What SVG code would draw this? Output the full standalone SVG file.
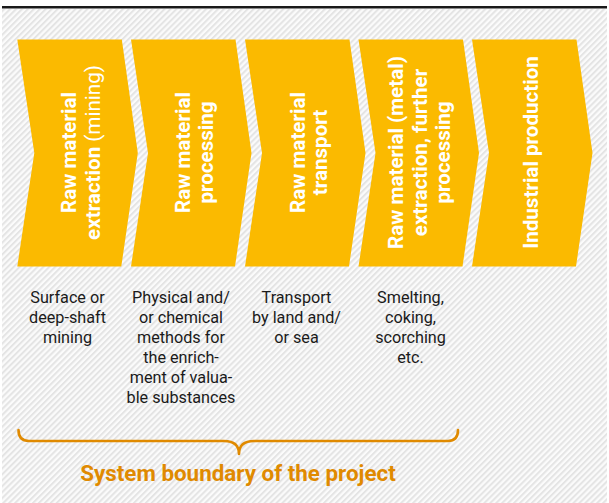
<svg xmlns="http://www.w3.org/2000/svg" width="609" height="503" viewBox="0 0 609 503">
  <defs>
    <pattern id="hatch" patternUnits="userSpaceOnUse" width="4.2" height="4.2" patternTransform="rotate(45)">
      <rect x="0" y="0" width="4.2" height="4.2" fill="#fbfbfb"/>
      <rect x="0" y="0" width="2" height="4.2" fill="#e4e4e4"/>
    </pattern>
    <polygon id="chev" points="0,39.5 104.5,39.5 120.5,153 104,266.5 0,266.5 17,153"/>
  </defs>
  <style>
    .chev { fill: #FBBA00; }
    .lbl { font-family: Roboto, "Liberation Sans", sans-serif; font-weight: bold; font-size: 20.6px; fill: #ffffff; text-anchor: middle; }
    .lbl .lt { font-weight: normal; }
    .desc { font-family: Roboto, "Liberation Sans", sans-serif; font-size: 16.2px; fill: #1a1a1a; text-anchor: middle; }
    .brace { fill: none; stroke: #E08A00; stroke-width: 2.6; stroke-linecap: round; stroke-linejoin: round; }
    .btxt { font-family: Roboto, "Liberation Sans", sans-serif; font-weight: bold; font-size: 22.4px; fill: #E08A00; text-anchor: middle; }
  </style>

  <rect x="2" y="9" width="605" height="494" fill="url(#hatch)"/>
  <rect x="2" y="6" width="605" height="2.5" fill="#1a1a1a"/>

  <g id="node-extraction">
    <use href="#chev" class="chev" transform="translate(17.3,0)"/>
    <text class="lbl" transform="translate(76,152.5) rotate(-90)">Raw material</text>
    <text class="lbl" transform="translate(100,152.5) rotate(-90)">extraction <tspan class="lt">(mining)</tspan></text>
  </g>
  <g id="node-processing">
    <use href="#chev" class="chev" transform="translate(131,0)"/>
    <text class="lbl" transform="translate(190,152.5) rotate(-90)">Raw material</text>
    <text class="lbl" transform="translate(213,152.5) rotate(-90)">processing</text>
  </g>
  <g id="node-transport">
    <use href="#chev" class="chev" transform="translate(245,0)"/>
    <text class="lbl" transform="translate(305,152.5) rotate(-90)">Raw material</text>
    <text class="lbl" transform="translate(327,152.5) rotate(-90)">transport</text>
  </g>
  <g id="node-metal">
    <use href="#chev" class="chev" transform="translate(358.5,0)"/>
    <text class="lbl" transform="translate(403,152.5) rotate(-90)">Raw material (metal)</text>
    <text class="lbl" transform="translate(427,152.5) rotate(-90)">extraction, further</text>
    <text class="lbl" transform="translate(450,152.5) rotate(-90)">processing</text>
  </g>
  <g id="node-industrial">
    <use href="#chev" class="chev" transform="translate(472,0)"/>
    <text class="lbl" transform="translate(538,152.5) rotate(-90)">Industrial production</text>
  </g>

  <g id="desc-1" class="desc">
    <text x="67.5" y="303.3">Surface or</text>
    <text x="67.5" y="323.3">deep-shaft</text>
    <text x="67.5" y="343.3">mining</text>
  </g>
  <g id="desc-2" class="desc">
    <text x="181" y="303.3">Physical and/</text>
    <text x="181" y="323.3">or chemical</text>
    <text x="181" y="343.3">methods for</text>
    <text x="181" y="363.3">the enrich-</text>
    <text x="181" y="383.3">ment of valua-</text>
    <text x="181" y="403.3">ble substances</text>
  </g>
  <g id="desc-3" class="desc">
    <text x="296.5" y="303.3">Transport</text>
    <text x="296.5" y="323.3">by land and/</text>
    <text x="296.5" y="343.3">or sea</text>
  </g>
  <g id="desc-4" class="desc">
    <text x="410.5" y="303.3">Smelting,</text>
    <text x="410.5" y="323.3">coking,</text>
    <text x="410.5" y="343.3">scorching</text>
    <text x="410.5" y="363.3">etc.</text>
  </g>

  <g id="connectors">
    <path class="brace" d="M18.5,430 Q18.5,441 29,441 L224,441 C233,441 239,445 239,454 C239,445 245,441 254,441 L448,441 Q458,441 458,430"/>
  </g>
  <g id="boundary-label">
    <text class="btxt" x="238" y="481">System boundary of the project</text>
  </g>
</svg>
